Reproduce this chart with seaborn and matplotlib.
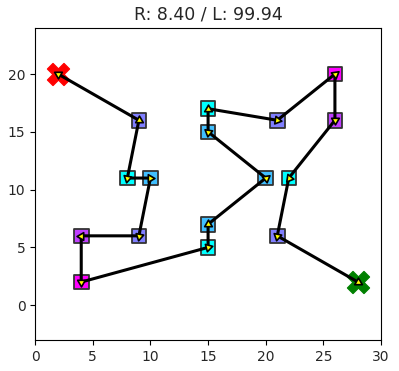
"""Route plot: depot start/end and visited customers."""

import matplotlib
matplotlib.use("Agg")
import matplotlib.pyplot as plt
import numpy as np
import pandas as pd
import seaborn as sns

# route data, in visiting order
start = (2, 20)
end = (28, 2)
route_x = [9, 8, 10, 9, 4, 4, 15, 15, 20, 15, 15, 21, 26, 26, 22, 21]
route_y = [16, 11, 11, 6, 6, 2, 5, 7, 11, 15, 17, 16, 20, 16, 11, 6]
demand = [2, 0, 1, 2, 3, 4, 0, 1, 1, 1, 0, 2, 4, 3, 0, 2]
title = "R: 8.40 / L: 99.94"

sns.set_theme(style="white")
plt.rcParams["font.family"] = ["DejaVu Sans"]

df = pd.DataFrame({"x": route_x, "y": route_y, "demand": demand})
xs = [start[0]] + route_x + [end[0]]
ys = [start[1]] + route_y + [end[1]]
path = pd.DataFrame({"x": xs, "y": ys, "step": range(len(xs))})

fig = plt.figure(figsize=(3.99, 3.71), dpi=100)
ax = fig.add_axes([0.088, 0.084, 0.867, 0.841])

# customers
sns.scatterplot(data=df, x="x", y="y", hue="demand", palette="cool",
                hue_norm=(0, 4), marker="s", s=110, edgecolor="#333333",
                linewidth=1.3, legend=False, zorder=2, ax=ax)

# start / end markers
ax.scatter([start[0]], [start[1]], marker="X", s=250, color="red", zorder=2)
ax.scatter([end[0]], [end[1]], marker="X", s=250, color="green", zorder=2)

# route line
sns.lineplot(data=path, x="x", y="y", sort=False, estimator=None,
             color="black", lw=2.2, zorder=3, ax=ax)
for ln in ax.get_lines():
    ln.set_solid_joinstyle("round")

# arrowheads at each point (start one faces back along the first leg)
heads = [(xs[0], ys[0], xs[0] - xs[1], ys[0] - ys[1])]
for i in range(1, len(xs)):
    heads.append((xs[i], ys[i], xs[i] - xs[i - 1], ys[i] - ys[i - 1]))
for hx, hy, dx, dy in heads:
    ang = np.degrees(np.arctan2(dy, dx))
    ax.scatter([hx], [hy], marker=(3, 0, ang - 90), s=40,
               facecolor="yellow", edgecolor="black", linewidth=1.2, zorder=4)

ax.set_xlim(0, 30)
ax.set_ylim(-3, 24)
ax.set_xticks([0, 5, 10, 15, 20, 25, 30])
ax.set_yticks([0, 5, 10, 15, 20])
ax.set_xlabel("")
ax.set_ylabel("")
ax.tick_params(axis="both", labelsize=10, length=3.5, width=0.8,
               bottom=True, left=True, color="black")
for sp in ax.spines.values():
    sp.set_color("black")
    sp.set_linewidth(0.8)
ax.set_title(title, fontsize=12.5)

fig.savefig("out.png", dpi=100)
plt.close(fig)
